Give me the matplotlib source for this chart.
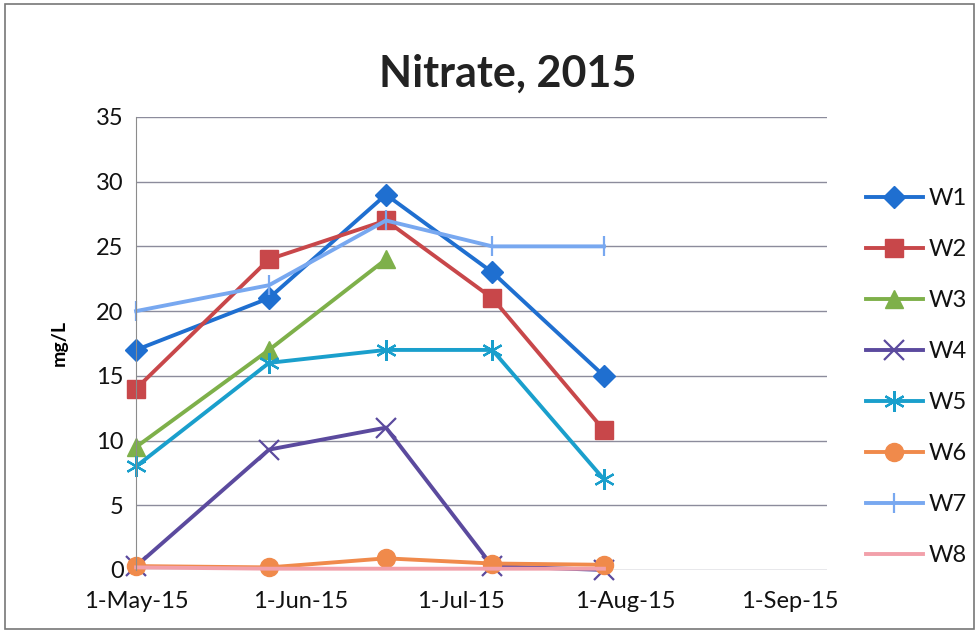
import numpy as np
import matplotlib
matplotlib.use('Agg')
import matplotlib.pyplot as plt
from matplotlib import dates as mdates
from matplotlib import ticker
from matplotlib.patches import Rectangle


DATES = np.array(
    ['2015-05-01', '2015-05-26', '2015-06-17', '2015-07-07', '2015-07-28'],
    dtype='datetime64[D]')

W1 = [17, 21, 29, 23, 15]
W2 = [14, 24, 27, 21, 10.8]
W3 = [9.5, 17, 24, np.nan, np.nan]
W4 = [0.3, 9.3, 11, 0.3, 0]
W5 = [8, 16, 17, 17, 7]
W6 = [0.3, 0.2, 0.9, 0.5, 0.4]
W7 = [20, 22, 27, 25, 25]
W8 = [0.2, 0.1, 0.1, 0.1, 0.1]

SERIES = ['W1', 'W2', 'W3', 'W4', 'W5', 'W6', 'W7', 'W8']
VALUES = [W1, W2, W3, W4, W5, W6, W7, W8]

STYLES = {
    'W1': dict(color='#1f6fd0', marker='D', ms=11),
    'W2': dict(color='#c8474a', marker='s', ms=13),
    'W3': dict(color='#7eb04a', marker='^', ms=13),
    'W4': dict(color='#5b4a9e', marker='x', ms=14, mew=1.6),
    'W5': dict(color='#1a9fcc', marker=(6, 2, 0), ms=15, mew=1.6),
    'W6': dict(color='#f08a4b', marker='o', ms=13),
    'W7': dict(color='#78a8f0', marker='|', ms=15, mew=1.6),
    'W8': dict(color='#f2a0aa', marker=None),
}

plt.rcParams['font.family'] = ['Lato', 'DejaVu Sans']

fig = plt.figure(figsize=(9.79, 6.39), dpi=100)
ax = fig.add_axes([0.139, 0.108, 0.706, 0.709])

xs = mdates.date2num(DATES.astype('datetime64[s]').astype(object))
for name, ys in zip(SERIES, VALUES):
  ys = np.asarray(ys, dtype=float)
  ok = np.isfinite(ys)
  ax.plot(xs[ok], ys[ok], label=name, lw=2.8, clip_on=False, **STYLES[name])

ax.set_ylim(0, 35)
ax.yaxis.set_major_locator(ticker.MultipleLocator(5))
start = mdates.date2num(np.datetime64('2015-05-01T00:00:00').astype(object))
stop = mdates.date2num(np.datetime64('2015-09-08T00:00:00').astype(object))
ax.set_xlim(start, stop)
ax.xaxis.set_major_locator(mdates.MonthLocator())
ax.xaxis.set_major_formatter(ticker.FuncFormatter(
    lambda v, _: f'{mdates.num2date(v).day}-{mdates.num2date(v):%b-%y}'))

ax.grid(axis='y', color='#8c8c9c', lw=1.0)
ax.set_axisbelow(True)
for side in ('top', 'right', 'bottom'):
  ax.spines[side].set_visible(False)
ax.spines['left'].set_color('#8c8c8c')
ax.tick_params(length=0, labelsize=17, colors='#111111')
ax.tick_params(axis='x', pad=15)
ax.tick_params(axis='y', pad=9)
ax.set_ylabel('mg/L', fontsize=14, fontweight='bold', labelpad=20)

fig.text(0.519, 0.885, 'Nitrate, 2015', ha='center', va='center',
         fontsize=31, fontweight='bold', color='#222222')

leg = fig.legend(loc='upper left', bbox_to_anchor=(0.875, 0.72),
                 frameon=False, fontsize=17, handlelength=2.4,
                 handletextpad=0.25, labelspacing=1.27, borderaxespad=0)
for text in leg.get_texts():
  text.set_color('#111111')

fig.patches.append(Rectangle(
    (0.005, 0.015), 0.99, 0.978, transform=fig.transFigure,
    fill=False, edgecolor='#777777', lw=1.2))

fig.savefig('out.png', dpi=100)
